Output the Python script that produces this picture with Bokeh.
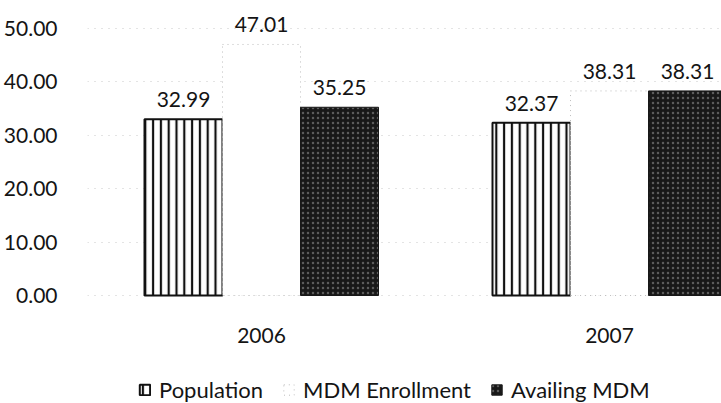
from bokeh.plotting import figure
from bokeh.models import (Range1d, FixedTicker, Legend, LegendItem,
                          ColumnDataSource, NumeralTickFormatter)
from bokeh.embed import file_html
from bokeh.resources import INLINE
from bokeh.core.properties import value

# ---- data ----
years = ["2006", "2007"]
series = ["Population", "MDM Enrollment", "Availing MDM"]
population = [32.99, 32.37]
mdm_enrollment = [47.01, 38.31]
availing_mdm = [35.25, 38.31]
y_ticks = [0, 10, 20, 30, 40, 50]

# ---- style / layout ----
FONT = "Lato"
TXT = "#141414"
W, H = 721, 403
LEFT = 87           # frame left (px)
ZERO_PX = 295       # y pixel of value 0
PX_PER_UNIT = 5.34  # px per y unit
CAT_PX = 348        # px per category
BAR_W = 78 / CAT_PX
offsets = [-BAR_W, 0.0, BAR_W]
centers = [i + 1 for i in range(len(years))]

p = figure(width=W, height=H, output_backend="svg", toolbar_location=None,
           x_range=Range1d(0.5, 0.5 + (W - LEFT) / CAT_PX),
           y_range=Range1d(-(H - ZERO_PX) / PX_PER_UNIT, ZERO_PX / PX_PER_UNIT),
           min_border_left=LEFT, min_border_right=0, min_border_top=0, min_border_bottom=0)
p.outline_line_color = None
p.background_fill_color = "white"
p.border_fill_color = "white"

styles = [
    dict(fill_color="white", hatch_pattern="vertical_line", hatch_color="#111111",
         hatch_weight=2.2, hatch_scale=7.8, line_color="#111111", line_width=2),
    dict(fill_color="white", line_color="#bdbdbd", line_dash="1 4", line_width=1),
    dict(fill_color="#181818", hatch_pattern="dot", hatch_color="#a0a0a0",
         hatch_alpha=0.5, hatch_scale=5, hatch_weight=1, line_color="#181818", line_width=1),
]

values = [population, mdm_enrollment, availing_mdm]
items = []
for k, (name, vals) in enumerate(zip(series, values)):
    src = ColumnDataSource(dict(
        x=[c + offsets[k] for c in centers],
        top=vals,
        label=["%.2f" % v for v in vals],
    ))
    r = p.vbar(x="x", top="top", width=BAR_W, source=src, **styles[k])
    p.text(x="x", y="top", text="label", source=src, text_align="center",
           text_baseline="bottom", y_offset=-12, text_font=value(FONT),
           text_font_size="21px", text_color=TXT)
    items.append(LegendItem(label=name, renderers=[r]))

# category labels under the bars
ysrc = ColumnDataSource(dict(x=centers, y=[0] * len(years), t=years))
p.text(x="x", y="y", text="t", source=ysrc, text_align="center",
       text_baseline="middle", y_offset=40, text_font=value(FONT),
       text_font_size="21px", text_color=TXT)

# axes
p.xaxis.visible = False
p.yaxis.ticker = FixedTicker(ticks=y_ticks)
p.yaxis.formatter = NumeralTickFormatter(format="0.00")
p.yaxis.major_tick_line_color = None
p.yaxis.minor_tick_line_color = None
p.yaxis.major_label_text_font = FONT
p.yaxis.major_label_text_font_size = "21px"
p.yaxis.major_label_text_color = TXT
p.yaxis.axis_line_color = None
p.yaxis.major_label_standoff = 24

p.xgrid.grid_line_color = None
p.ygrid.ticker = FixedTicker(ticks=y_ticks)
p.ygrid.grid_line_color = "#c8c8c8"
p.ygrid.grid_line_dash = "1 6"

legend = Legend(items=items, orientation="horizontal", location=(51, 0),
                label_text_font=FONT, label_text_font_size="22px", label_text_color=TXT,
                glyph_width=13, glyph_height=13, label_standoff=8, spacing=19,
                padding=0, margin=0, border_line_color=None, background_fill_alpha=0)
p.add_layout(legend, "center")

open("out.html", "w").write(file_html(p, INLINE))
